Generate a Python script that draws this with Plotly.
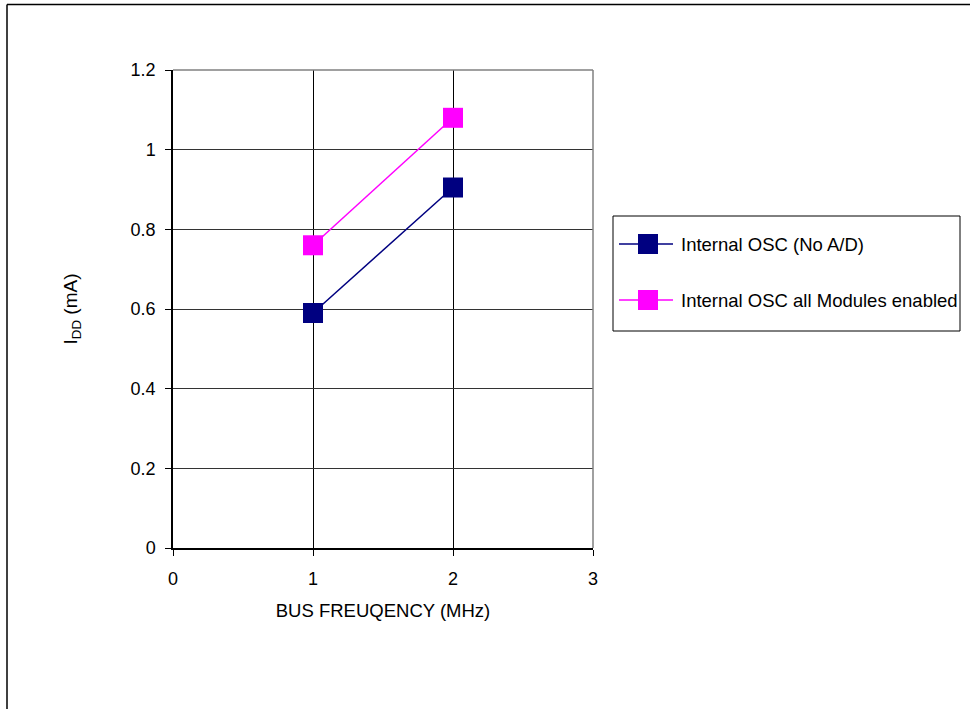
import plotly.graph_objects as go

freq = [1, 2]
no_ad = [0.59, 0.905]
all_mod = [0.76, 1.08]
series_names = ["Internal OSC (No A/D)", "Internal OSC all Modules enabled"]
series_colors = ["#000080", "#FF00FF"]
x_ticks = [0, 1, 2, 3]
y_ticks = [0, 0.2, 0.4, 0.6, 0.8, 1.0, 1.2]
y_tick_text = ["0", "0.2", "0.4", "0.6", "0.8", "1", "1.2"]

W, H = 970, 709
L, R, T, B = 173, 593, 70, 548

FAM = "Liberation Sans, Arial, sans-serif"

fig = go.Figure()
for name, ys, col in zip(series_names, [no_ad, all_mod], series_colors):
    fig.add_trace(go.Scatter(
        x=freq, y=ys, name=name, mode="lines+markers",
        line=dict(color=col, width=1.5),
        marker=dict(symbol="square", size=20, color=col),
    ))


def px_x(p):  # page pixel -> paper x
    return (p - L) / (R - L)


def px_y(p):  # page pixel -> paper y
    return (B - p) / (B - T)


shapes = [
    dict(type="line", xref="paper", yref="paper", x0=0, x1=1, y0=1, y1=1,
         line=dict(color="#808080", width=1.5)),
    dict(type="line", xref="paper", yref="paper", x0=1, x1=1, y0=0, y1=1,
         line=dict(color="#808080", width=1.5)),
    # outer frame (top and left visible)
    dict(type="line", xref="paper", yref="paper",
         x0=px_x(7), x1=px_x(1000), y0=px_y(4.5), y1=px_y(4.5),
         line=dict(color="black", width=1.5)),
    dict(type="line", xref="paper", yref="paper",
         x0=px_x(7), x1=px_x(7), y0=px_y(4.5), y1=px_y(760),
         line=dict(color="black", width=1.5)),
    # legend box
    dict(type="rect", xref="paper", yref="paper",
         x0=px_x(613), x1=px_x(960), y0=px_y(216), y1=px_y(331),
         line=dict(color="black", width=1), fillcolor="white", layer="above"),
]
annotations = []
row_y = [244, 300]
for name, col, ry in zip(series_names, series_colors, row_y):
    shapes.append(dict(type="line", xref="paper", yref="paper",
                       x0=px_x(619), x1=px_x(673), y0=px_y(ry), y1=px_y(ry),
                       line=dict(color=col, width=1.5), layer="above"))
    shapes.append(dict(type="rect", xref="paper", yref="paper",
                       x0=px_x(638), x1=px_x(658), y0=px_y(ry - 10), y1=px_y(ry + 10),
                       line=dict(width=0), fillcolor=col, layer="above"))
    annotations.append(dict(text=name, xref="paper", yref="paper",
                            x=px_x(679), y=px_y(ry), xanchor="left", yanchor="middle",
                            showarrow=False,
                            font=dict(family=FAM, size=18.5, color="black")))

fig.update_layout(
    width=W, height=H,
    margin=dict(l=L, r=W - R, t=T, b=H - B, pad=0),
    paper_bgcolor="white", plot_bgcolor="white",
    font=dict(family=FAM, size=18, color="black"),
    showlegend=False,
    xaxis=dict(
        range=[0, 3], tickvals=x_ticks, ticktext=[str(v) for v in x_ticks],
        showgrid=True, gridcolor="black", gridwidth=1,
        showline=True, linecolor="black", linewidth=1.5,
        ticks="outside", ticklen=6, tickcolor="black",
        ticklabelstandoff=8,
        zeroline=False,
        tickfont=dict(family=FAM, size=18, color="black"),
        title=dict(text="BUS FREUQENCY (MHz)", standoff=16,
                   font=dict(family=FAM, size=18.5, color="black")),
    ),
    yaxis=dict(
        range=[0, 1.2], tickvals=y_ticks, ticktext=y_tick_text,
        showgrid=True, gridcolor="#333333", gridwidth=1,
        showline=True, linecolor="black", linewidth=1.5,
        ticks="outside", ticklen=6, tickcolor="black",
        ticklabelstandoff=6,
        zeroline=False,
        tickfont=dict(family=FAM, size=18, color="black"),
        title=dict(text="I<sub>DD</sub> (mA)", standoff=48,
                   font=dict(family=FAM, size=19, color="black")),
    ),
    shapes=shapes,
    annotations=annotations,
)

fig.write_html(
    "out.html",
    config={"displayModeBar": False},
    post_script="document.body.style.margin='0';document.body.style.overflow='hidden';",
)
